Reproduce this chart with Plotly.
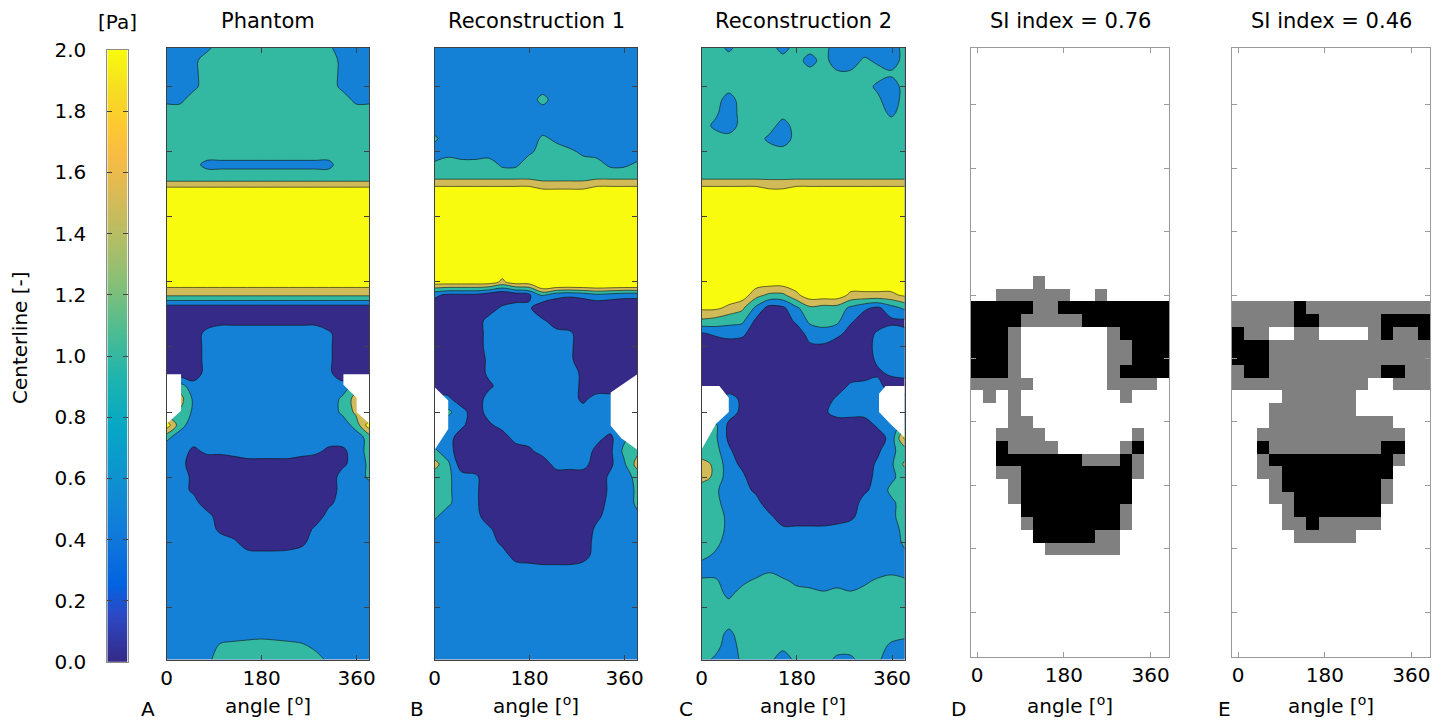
import plotly.graph_objects as go

W, H = 1446, 723
FONT = "DejaVu Sans"

# ---------------- data ----------------
# contour grid: 16 angular samples x 48 centerline samples
ANGLE_DEG = [0.0, 25.6, 51.2, 76.8, 102.4, 128.0, 153.6, 179.2,
             204.8, 230.4, 256.0, 281.6, 307.2, 332.8, 358.4, 384.0]
ROWS = list(range(1, 49))          # centerline sample index (1 = bottom)
ROW_TICKS = [5, 10, 15, 20, 25, 30, 35, 40, 45]
ANGLE_TICKS = [0, 180, 360]
ANGLE_LABELS = ["0", "180", "360"]

# wall shear stress [Pa]; one string per centerline row, top (48) to bottom (1);
# each character c encodes the value int(c, 36) / 10
PHANTOM = [
    "7779ccccccccb777", "779cccccccccc977", "779cccccccccc977", "779cccccccccc977",
    "99cccccccccccc99", "cccccccccccccccc", "cccccccccccccccc", "cccccccccccccccc",
    "cccccccccccccccc", "ccb9999999999ccc", "cccccccccccccccc",
    "nnnnnnnnnnnnnnnn", "nnnnnnnnnnnnnnnn", "nnnnnnnnnnnnnnnn", "nnnnnnnnnnnnnnnn",
    "nnnnnnnnnnnnnnnn", "nnnnnnnnnnnnnnnn", "nnnnnnnnnnnnnnnn", "nnnnnnnnnnnnnnnn",
    "gggggggggggggggg", "2222222222222222", "2222444444442222",
    "2227777777776222", "2227777777776222", "2227777777776222", "2227777777776222",
    "hc777777777777cc", "ch97777777777bhc", "ce97777777777bgc", "nc777777777777cn",
    "b77777777777777c", "774667999976447c", "772222222222247b", "774222222222277b",
    "7742222222222777", "7772222222224777", "7777222222227777", "7777422222267777",
    "7777762112477777",
    "7777777777777777", "7777777777777777", "7777777777777777", "7777777777777777",
    "7777777777777777", "7777777777777777", "7777777777777777",
    "7777bcdedcb97777", "7779cccccccc9777",
]

RECON1 = [
    "7777777777777777", "7777777777777777", "7777777777777777", "7777777777777777",
    "77777777c7777777", "7777777777777777", "7777777777777777", "b7777777b9777777",
    "77777779ccb98777", "beccd99dccccc99b", "eeeeeeeeddddeeee", "nnnnnnnnllllnnnn",
    "nnnnnnnnnnnnnnnn", "nnnnnnnnnnnnnnnn", "nnnnnnnnnnnnnnnn", "nnnnnnnnnnnnnnnn",
    "nnnnnnnnnnnnnnnn", "nnnnnnnnnnnnnnnn",
    "nnnnnjnnuuuuuuuu", "64442024b7679877", "2222267600000000", "2222777762222222",
    "2222777777622222", "2222777777622222", "2222677777622222", "2222677777742222",
    "2222477777742222", "7622777777747777", "7b72777777777777", "7762477777777777",
    "772222777777649c", "b7222224777744be", "hb2222222777249h", "cb7622222222267c",
    "cb7622222222267b", "cb7622222222277b", "b777222222224779", "7777622222226777",
    "7777742222227777", "7777773200037777",
    "7777777777777777", "7777777777777777", "7777777777777777", "7777777777777777",
    "7777777777777777", "7777777777777777", "7777777777777777", "7777777777777777",
]

RECON2 = [
    "cc9ccc8ccc77777c", "cccccccc8c77b97c", "ccccccccccbbccbc", "ccccccccccccc97c",
    "cc8ccccccccccb7c", "cb7ccccccccccc9c", "c97ccc8ccccccccc", "ccccc97ccccccccc",
    "cccccccccccccccc", "cccccccccccccccc", "eeeeeeeeeeeeeeee", "nnnnnllnnnnnnnnn",
    "nnnnnnnnnnnnnnnn", "nnnnnnnnnnnnnnnn", "nnnnnnnnnnnnnnnn", "nnnnnnnnnnnnnnnn",
    "nnnnnnnnnnnnnnnn", "nnnnnnnnnnnnnnnn", "nnnnnnnnnnnnnnnn",
    "nnnnheejnnnjjjjl", "lljg9349edd9648b", "edbb4226bcb62244", "4686222278722676",
    "2002222244022777", "2222222222222677", "2222222222222467", "2222222222267722",
    "2274222222677777", "2274222224777777", "cb4222222222267c", "cb4222222222227l",
    "cc6222222222249c", "he7422222222269g", "he7622222222279c", "cb774222222247bc",
    "cc7772222222779c", "cc9776222224779c", "cc9777666677777c", "cc7777777777777b",
    "c977777777777779", "7777797777777787", "bb79bcb987879bcb", "cc9ccccccbcbcccc",
    "cccccccccccccccc", "cccccccccccccccc", "cc9ccccccccccccc", "cc7ccccccccccc97",
    "c97bcc6ccc99cb77",
]

# regions without data (white), as (angle, row) outlines
NOTCHES = {
    "A": [[(0, 22.9), (27.2, 22.9), (27.2, 20.1), (0, 19.1)],
          [(384, 22.9), (334.9, 22.9), (334.9, 22.1), (360, 21.1), (360, 20.0), (384, 19.1)]],
    "B": [[(0, 21.9), (25.6, 20.9), (25.6, 18.7), (0, 17.1)],
          [(384, 22.9), (333.6, 21.5), (333.6, 18.95), (353.8, 18.0), (384, 17.1)]],
    "C": [[(0, 22.0), (33.5, 22.0), (51.2, 21.1), (51.2, 20.0), (27.2, 19.1), (0, 17.15)],
          [(384, 22.0), (348, 22.0), (335.4, 21.4), (335.4, 20.0), (358.9, 19.0), (384, 18.05)]],
}

# similarity maps: 16 columns x 48 rows (row 1 at top); rows 19..40 listed
# '.' = 0 (white), 'g' = 1 (grey), 'k' = 2 (black)
SI_COLS = list(range(1, 17))
SI_FIRST_ROW = 19
SI_D = [
    ".....g..........", "..gggggg..g.....", "kkkkkggkkkkkkkkk", "kkkkgggggkkkkkkk",
    "kkkg.......gkkkk", "kkkg.......ggkkk", "kkkg.......ggkkk", "kkkg.......gkkkk",
    "ggggg......gggg.", ".g.g........g...", "...g............", "...gg...........",
    "..gggg.......g..", "..kgggg.....gk..", "..kkkkkkkgggkg..", "..ggkkkkkkkkkg..",
    "...gkkkkkkkkk...", "...gkkkkkkkkk...", "....kkkkkkkkg...", "....gkkkkkkkg...",
    ".....kkkkkgg....", "......gggggg....",
]
SI_E = [
    "................", "................", "gggggkgggggggggg", "gggggkkgggggkkkk",
    "kgg..gg....gkggk", "kkkggggggggggggg", "kkkggggggggggggg", "gkkgggggggggkkgg",
    "ggggggggggg..ggg", "....gggggg......", "...ggggggg......", "...gggggggggg...",
    "..gggggggggggg..", "..kgggggggggkk..", "..gkkkkkkkkkkg..", "..ggkkkkkkkkk...",
    "...gkkkkkkkkg...", "...ggkkkkkkkg...", "....gkkkkkkk....", "....ggkggggg....",
    ".....ggggg......", "................",
]
SI_CODE = {".": 0, "g": 1, "k": 2}

CBAR_TICKS = [0.0, 0.2, 0.4, 0.6, 0.8, 1.0, 1.2, 1.4, 1.6, 1.8, 2.0]

TITLES = ["Phantom", "Reconstruction 1", "Reconstruction 2", "SI index = 0.76", "SI index = 0.46"]
LETTERS = ["A", "B", "C", "D", "E"]

# ---------------- styles ----------------
PARULA = [[0.0, "#352A87"], [0.0794, "#2C4AC7"], [0.127, "#0363E1"], [0.2063, "#1079DA"],
          [0.2857, "#108ED2"], [0.381, "#06A7C6"], [0.4603, "#1DB3AF"], [0.5397, "#4DBC92"],
          [0.619, "#87BF77"], [0.6825, "#AEBE67"], [0.7619, "#D9BA56"], [0.8254, "#F8BB44"],
          [0.873, "#FEC832"], [0.9365, "#F5DE21"], [1.0, "#F9FB0E"]]
BANDS = ["#352A87", "#1481D6", "#33B8A1", "#D1BB59", "#F9FB0E"]
BAND_SCALE = [[0, BANDS[0]], [0.125, BANDS[0]], [0.125, BANDS[1]], [0.375, BANDS[1]],
              [0.375, BANDS[2]], [0.625, BANDS[2]], [0.625, BANDS[3]], [0.875, BANDS[3]],
              [0.875, BANDS[4]], [1, BANDS[4]]]
SI_SCALE = [[0, "#ffffff"], [0.333, "#ffffff"], [0.333, "#808080"], [0.666, "#808080"],
            [0.666, "#000000"], [1, "#000000"]]

def px_x(p):
    return p / W

def px_y(p):
    return 1 - p / H

CBAR_DOM_X = [px_x(107.3), px_x(127.7)]
CBAR_DOM_Y = [px_y(662.2), px_y(49.8)]
PANEL_X = [(166.7, 369.3), (434.7, 637.3), (701.7, 904.7), (971.0, 1169.3), (1232.0, 1430.0)]
CONT_Y = [px_y(659.5), px_y(47.5)]
SI_Y = [px_y(656.7), px_y(47.7)]

def decode(rows):
    return [[int(ch, 36) / 10 for ch in r] for r in rows[::-1]]

def si_matrix(rows):
    z = [[0] * len(SI_COLS) for _ in ROWS]
    for i, r in enumerate(rows):
        z[SI_FIRST_ROW - 1 + i] = [SI_CODE[ch] for ch in r]
    return z

fig = go.Figure()

# colour bar (own axes so the labels sit on the left)
fig.add_trace(go.Heatmap(x=[0, 1], y=CBAR_TICKS, z=[[v, v] for v in CBAR_TICKS],
                         colorscale=PARULA, zmin=0, zmax=2, zsmooth="best",
                         showscale=False, hoverinfo="skip", xaxis="x", yaxis="y"))

for k, (key, rows) in enumerate([("A", PHANTOM), ("B", RECON1), ("C", RECON2)]):
    ax = str(k + 2)
    fig.add_trace(go.Contour(
        x=ANGLE_DEG, y=ROWS, z=decode(rows), autocontour=False,
        contours=dict(start=0.5, end=2.0, size=0.5, coloring="fill", showlines=True),
        line=dict(color="#111111", width=0.6), colorscale=BAND_SCALE,
        showscale=False, hoverinfo="skip", xaxis="x" + ax, yaxis="y" + ax))
    for poly in NOTCHES[key]:
        fig.add_trace(go.Scatter(
            x=[p[0] for p in poly] + [poly[0][0]], y=[p[1] for p in poly] + [poly[0][1]],
            mode="lines", fill="toself", fillcolor="white", line=dict(color="white", width=0),
            hoverinfo="skip", showlegend=False, xaxis="x" + ax, yaxis="y" + ax))

for k, rows in enumerate([SI_D, SI_E]):
    ax = str(k + 5)
    fig.add_trace(go.Heatmap(x=SI_COLS, y=ROWS, z=si_matrix(rows), colorscale=SI_SCALE,
                             zmin=0, zmax=2, showscale=False, hoverinfo="skip",
                             xaxis="x" + ax, yaxis="y" + ax))

tickfont = dict(family=FONT, size=20, color="black")
layout = dict(
    width=W, height=H, margin=dict(l=0, r=0, t=0, b=0, autoexpand=False),
    paper_bgcolor="white", plot_bgcolor="white", showlegend=False,
    font=dict(family=FONT, size=20, color="black"),
)
layout["xaxis"] = dict(domain=CBAR_DOM_X, range=[0, 1], showticklabels=False, ticks="",
                       showline=True, linecolor="#8c8c8c", linewidth=1, mirror=True,
                       showgrid=False, zeroline=False, anchor="y", fixedrange=True)
layout["yaxis"] = dict(domain=CBAR_DOM_Y, range=[0, 2], tickvals=CBAR_TICKS, tickformat=".1f",
                       ticks="inside", ticklen=5, tickcolor="#444444", tickwidth=1,
                       showline=True, linecolor="#8c8c8c", linewidth=1, mirror="ticks",
                       showgrid=False, zeroline=False, tickfont=tickfont,
                       ticklabelstandoff=16, anchor="x")
for k in range(5):
    ax = str(k + 2)
    x0, x1 = PANEL_X[k]
    is_si = k >= 3
    lc = "#9a9a9a" if is_si else "#404040"
    xa = dict(domain=[px_x(x0), px_x(x1)], ticks="inside", ticklen=5, tickcolor=lc,
              showline=True, linecolor=lc, linewidth=1, mirror="ticks",
              showgrid=False, zeroline=False, tickfont=tickfont, anchor="y" + ax)
    ya = dict(ticks="inside", ticklen=5, tickcolor=lc, showline=True, linecolor=lc,
              linewidth=1, mirror="ticks", showgrid=False, zeroline=False,
              showticklabels=False, tickvals=ROW_TICKS, anchor="x" + ax)
    if is_si:
        xa.update(range=[0.5, 16.5], tickvals=[1, 8, 15], ticktext=ANGLE_LABELS)
        ya.update(domain=SI_Y, range=[48.5, 0.5])
    else:
        xa.update(range=[0, 384], tickvals=ANGLE_TICKS, ticktext=ANGLE_LABELS)
        ya.update(domain=CONT_Y, range=[1, 48])
    layout["xaxis" + ax] = xa
    layout["yaxis" + ax] = ya

ann = []
for k in range(5):
    x0, x1 = PANEL_X[k]
    xc = px_x((x0 + x1) / 2)
    ann.append(dict(text=TITLES[k], x=xc, y=px_y(21), xref="paper", yref="paper",
                    showarrow=False, xanchor="center", yanchor="middle",
                    font=dict(family=FONT, size=21, color="black")))
    ann.append(dict(text="angle [<sup>o</sup>]", x=xc, y=px_y(705), xref="paper", yref="paper",
                    showarrow=False, xanchor="center", yanchor="middle",
                    font=dict(family=FONT, size=20, color="black")))
for lx, letter in zip([147.5, 417, 686, 958, 1224], LETTERS):
    ann.append(dict(text=letter, x=px_x(lx), y=0, xref="paper", yref="paper",
                    showarrow=False, xanchor="center", yanchor="bottom",
                    font=dict(family=FONT, size=20, color="black")))
ann.append(dict(text="[Pa]", x=px_x(117), y=px_y(22), xref="paper", yref="paper",
                showarrow=False, xanchor="center", yanchor="middle",
                font=dict(family=FONT, size=20, color="black")))
ann.append(dict(text="Centerline [-]", x=px_x(20), y=px_y(338), xref="paper", yref="paper",
                showarrow=False, xanchor="center", yanchor="middle", textangle=-90,
                font=dict(family=FONT, size=20, color="black")))
layout["annotations"] = ann

fig.update_layout(**layout)

PAGE_CSS = ("document.documentElement.style.margin='0';"
            "document.body.style.margin='0';document.body.style.padding='0';"
            "document.body.style.overflow='hidden';")
fig.write_html("out.html", config={"displayModeBar": False}, post_script=PAGE_CSS)
